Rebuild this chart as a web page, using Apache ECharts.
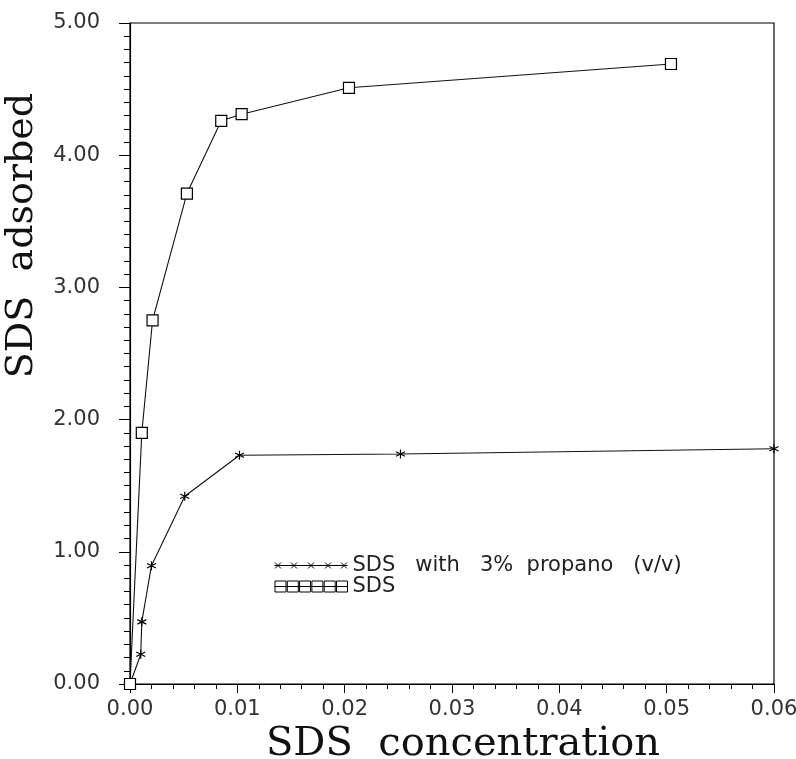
<!DOCTYPE html>
<html>
<head>
<meta charset="utf-8">
<script src="https://cdn.jsdelivr.net/npm/echarts@6/dist/echarts.min.js"></script>
<style>
html,body{margin:0;padding:0;background:#fff;}
#chart{width:796px;height:759px;}
</style>
</head>
<body>
<div id="chart"></div>
<script>
// SDS only (x = SDS concentration, y = SDS adsorbed)
const sdsX = [0, 0.0011, 0.0021, 0.0053, 0.0085, 0.0104, 0.0204, 0.0504];
const sdsY = [0, 1.90, 2.75, 3.71, 4.26, 4.31, 4.51, 4.69];
// SDS with 3% propanol
const propX = [0, 0.0010, 0.0011, 0.0020, 0.0051, 0.0102, 0.0252, 0.0600];
const propY = [0, 0.225, 0.47, 0.895, 1.42, 1.73, 1.74, 1.78];

const seriesNames = ['SDS   with   3%  propano   (v/v)', 'SDS'];
const xTicks = [0, 0.01, 0.02, 0.03, 0.04, 0.05, 0.06];
const yTicks = [0, 1, 2, 3, 4, 5];
const xTitle = 'SDS  concentration';
const yTitle = 'SDS  adsorbed';

const pair = (xs, ys) => xs.map((x, i) => [x, ys[i]]);

const starPath = 'path://M5,0 L5,10 M0.7,2.5 L9.3,7.5 M0.7,7.5 L9.3,2.5';
const legendSquares = 'path://M0,6 L73,6 M0.5,0.5 L11.5,0.5 L11.5,11.5 L0.5,11.5 Z M12.8,0.5 L23.8,0.5 L23.8,11.5 L12.8,11.5 Z M25.1,0.5 L36.1,0.5 L36.1,11.5 L25.1,11.5 Z M37.4,0.5 L48.4,0.5 L48.4,11.5 L37.4,11.5 Z M49.7,0.5 L60.7,0.5 L60.7,11.5 L49.7,11.5 Z M62,0.5 L73,0.5 L73,11.5 L62,11.5 Z';
const legendStars = 'path://M0,6 L73,6 M0.5,3 L6.5,9 M0.5,9 L6.5,3 M16.5,3 L22.5,9 M16.5,9 L22.5,3 M33.5,3 L39.5,9 M33.5,9 L39.5,3 M50.5,3 L56.5,9 M50.5,9 L56.5,3 M66.5,3 L72.5,9 M66.5,9 L72.5,3 M0,0.5 L0,0.5 M0,11.5 L0,11.5';

const tickFont = {fontFamily: 'DejaVu Sans', fontSize: 21, color: '#333'};
const titleFont = {fontFamily: 'DejaVu Serif', fontSize: 40, color: '#111'};

const chart = echarts.init(document.getElementById('chart'), null, {renderer: 'canvas'});
chart.setOption({
  backgroundColor: '#fff',
  animation: false,
  grid: {left: 130, right: 22, top: 23, bottom: 75, show: true, borderColor: '#000', borderWidth: 1.2, backgroundColor: 'transparent', containLabel: false, outerBoundsMode: 'none'},
  legend: {
    orient: 'vertical',
    left: 272,
    top: 555,
    padding: 0,
    itemWidth: 73,
    itemHeight: 12,
    itemGap: 0,
    textStyle: {fontFamily: 'DejaVu Sans', fontSize: 21, color: '#222'},
    data: [
      {name: seriesNames[0], icon: legendStars, itemStyle: {color: 'none', borderColor: '#000', borderWidth: 1}},
      {name: seriesNames[1], icon: legendSquares, itemStyle: {color: 'none', borderColor: '#000', borderWidth: 1}}
    ]
  },
  xAxis: {
    type: 'value', min: xTicks[0], max: xTicks[xTicks.length - 1], interval: 0.01,
    name: xTitle, nameLocation: 'middle', nameGap: 36,
    nameTextStyle: Object.assign({padding: [0, 0, 0, 22]}, titleFont),
    axisLine: {show: true, lineStyle: {color: '#000', width: 1.2}},
    axisTick: {show: true, inside: false, length: 9, lineStyle: {color: '#000'}},
    minorTick: {show: true, splitNumber: 5, length: 5, lineStyle: {color: '#000'}},
    splitLine: {show: false},
    axisLabel: Object.assign({margin: 15, formatter: v => v.toFixed(2)}, tickFont)
  },
  yAxis: {
    type: 'value', min: yTicks[0], max: yTicks[yTicks.length - 1], interval: 1,
    name: yTitle, nameLocation: 'middle', nameGap: 89,
    nameTextStyle: Object.assign({}, titleFont, {fontSize: 38, padding: [0, 0, 0, 236]}),
    axisLine: {show: true, lineStyle: {color: '#000', width: 1.2}},
    axisTick: {show: true, inside: false, length: 11, lineStyle: {color: '#000'}},
    minorTick: {show: true, splitNumber: 10, length: 6, lineStyle: {color: '#000'}},
    splitLine: {show: false},
    axisLabel: Object.assign({margin: 30, formatter: v => v.toFixed(2)}, tickFont)
  },
  series: [
    {
      name: seriesNames[0], type: 'line', data: pair(propX, propY),
      symbol: starPath, symbolSize: 9,
      itemStyle: {color: 'none', borderColor: '#000', borderWidth: 1.2},
      lineStyle: {color: '#111', width: 1.1}
    },
    {
      name: seriesNames[1], type: 'line', data: pair(sdsX, sdsY),
      symbol: 'rect', symbolSize: 11,
      itemStyle: {color: '#fff', borderColor: '#000', borderWidth: 1.2},
      lineStyle: {color: '#111', width: 1.1}, z: 3
    }
  ]
});
</script>
</body>
</html>
